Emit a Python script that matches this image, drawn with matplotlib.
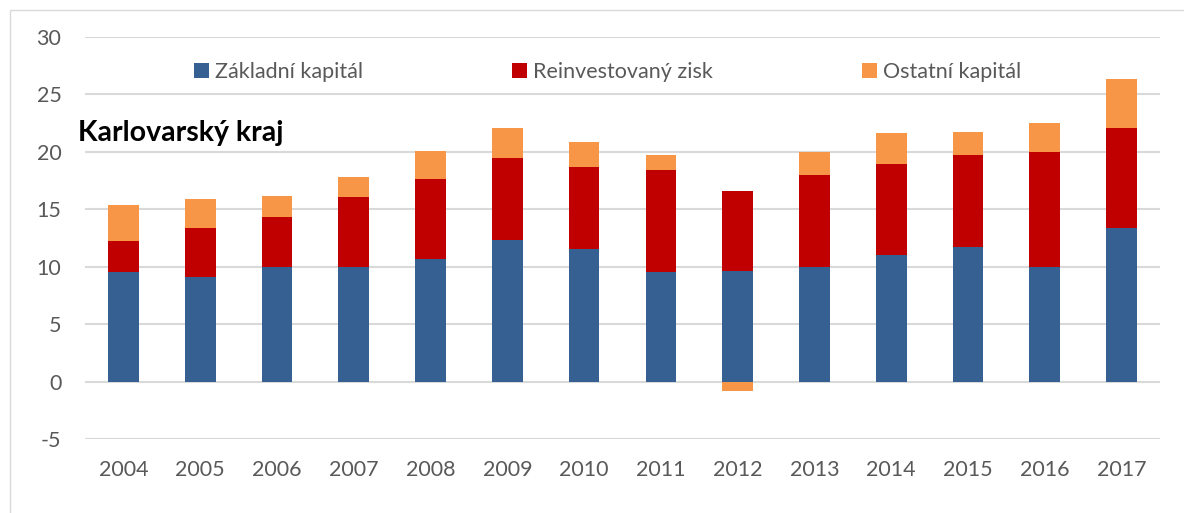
import numpy as np
import matplotlib as mpl
import matplotlib.pyplot as plt
from matplotlib.patches import Rectangle

mpl.rcParams['font.family'] = ['Lato', 'DejaVu Sans']
mpl.rcParams['axes.unicode_minus'] = False

years = ['2004', '2005', '2006', '2007', '2008', '2009', '2010',
         '2011', '2012', '2013', '2014', '2015', '2016', '2017']
zakladni = [9.5, 9.1, 10.0, 10.0, 10.7, 12.3, 11.5, 9.5, 9.6, 10.0, 11.0, 11.7, 10.0, 13.4]
reinvest = [2.7, 4.3, 4.3, 6.1, 6.9, 7.2, 7.2, 8.9, 7.0, 8.0, 7.9, 8.0, 10.0, 8.7]
ostatni = [3.2, 2.5, 1.9, 1.7, 2.45, 2.6, 2.2, 1.3, -0.8, 2.0, 2.7, 2.0, 2.5, 4.2]
labels = ['Základní kapitál', 'Reinvestovaný zisk', 'Ostatní kapitál']
colors = ['#376092', '#C00000', '#F79646']

zak = np.array(zakladni)
rei = np.array(reinvest)
ost = np.array(ostatni)
x = np.arange(len(years))

fig = plt.figure(figsize=(11.84, 5.13), dpi=100)
ax = fig.add_axes([85 / 1184, 1 - 439 / 513, 1075 / 1184, 402 / 513])

# chart area border
fig.patches.append(Rectangle((10 / 1184, -0.1), 1.2, 1 - 10 / 513 + 0.1,
                             transform=fig.transFigure, fill=False,
                             ec='#D9D9D9', lw=1.0))

w = 0.40
ax.bar(x, zak, w, color=colors[0], label=labels[0], zorder=3)
ax.bar(x, rei, w, bottom=zak, color=colors[1], label=labels[1], zorder=3)
# negative values stack down from zero, like Excel
ost_bottom = np.where(ost >= 0, zak + rei, 0)
ax.bar(x, ost, w, bottom=ost_bottom, color=colors[2], label=labels[2], zorder=3)

ax.set_xlim(-0.5, len(years) - 0.5)
ax.set_ylim(-5, 30)
ax.set_yticks(np.arange(-5, 31, 5))
ax.set_xticks(x)
ax.set_xticklabels(years)
ax.grid(axis='y', color='#D9D9D9', lw=1.5, zorder=0)
for s in ax.spines.values():
    s.set_visible(False)
ax.tick_params(axis='both', length=0, labelsize=15.5, colors='#595959')
ax.tick_params(axis='y', pad=17)
ax.tick_params(axis='x', pad=15)

ax.legend(loc='center', bbox_to_anchor=(0.486, 0.913), ncol=3, frameon=False,
          fontsize=15.5, labelcolor='#595959', handlelength=0.7, handleheight=0.7,
          handletextpad=0.3, columnspacing=6.9)

fig.text(78 / 1184, 1 - 133 / 513, 'Karlovarský kraj', fontsize=20.5,
         fontweight='bold', ha='left', va='center', color='black')

fig.savefig('out.png', dpi=100)
